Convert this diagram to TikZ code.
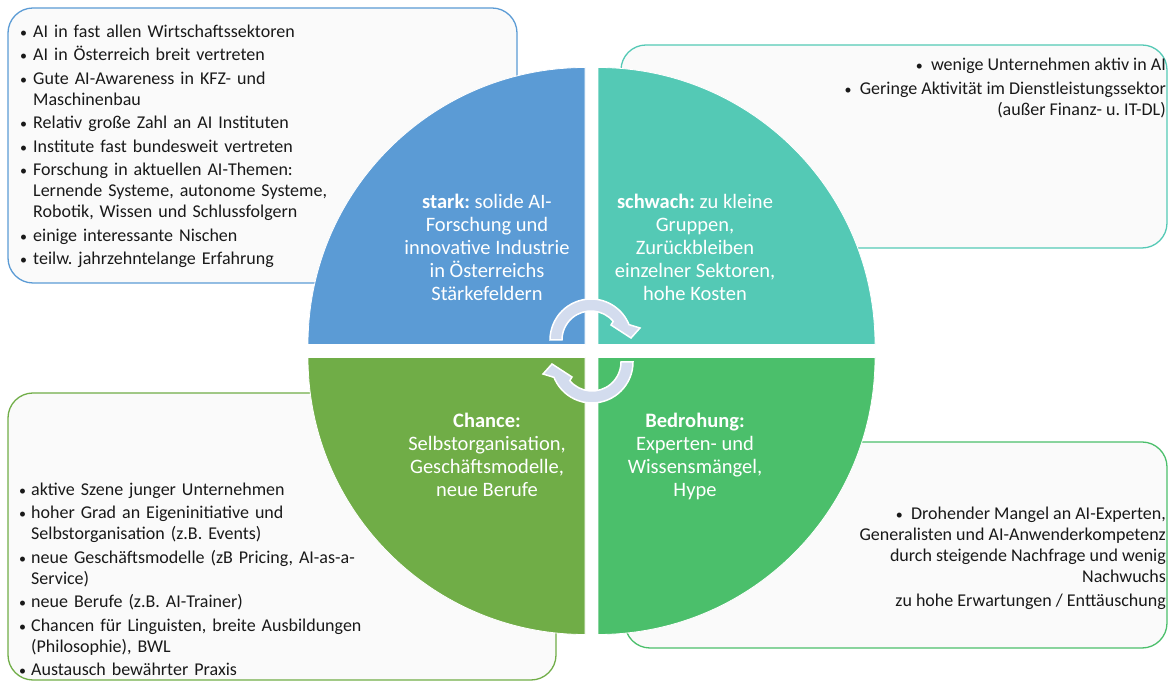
\documentclass[tikz,border=0pt]{standalone}
\usepackage{fontspec}
\setmainfont{Carlito}
\usepackage{enumitem}
\frenchspacing
\definecolor{starkblue}{HTML}{5B9BD5}
\definecolor{schwachteal}{HTML}{54C9B5}
\definecolor{chancegreen}{HTML}{70AD47}
\definecolor{bedrohgreen}{HTML}{4BBF6B}
\definecolor{pfeilgrau}{HTML}{D3DCEE}
\newcommand{\pkt}{{\fontsize{14}{14}\selectfont\textbullet}}

\begin{document}
\begin{tikzpicture}[x=1pt,y=1pt,
  liste/.style={font=\fontsize{18}{21}\selectfont, inner sep=0pt, text=black!90},
  feld/.style={font=\fontsize{20.5}{23}\selectfont, text=white, align=center, inner sep=0pt},
  kasten/.style={fill=black!2, rounded corners=25pt, line width=1.3pt, inner sep=0pt},
  viertel/.style={draw=white, line width=0.8pt},
  pfeil/.style={fill=pfeilgrau, draw=white, line width=1.5pt}]
\useasboundingbox (0,0) rectangle (1169,682);

% Kaesten hinter dem Kreis
\node[kasten, draw=starkblue, minimum width=509pt, minimum height=275pt] (sbox) at (262.5,536.5) {};
\node[kasten, draw=schwachteal, minimum width=546pt, minimum height=203pt] (wbox) at (894,535.5) {};
\node[kasten, draw=chancegreen, minimum width=548pt, minimum height=287pt] (obox) at (282,145.5) {};
\node[kasten, draw=bedrohgreen, minimum width=542pt, minimum height=206pt] (tbox) at (896,137) {};

% Viertelkreise
\filldraw[fill=starkblue, viertel] (585,337.5) -- ++(-277,0) arc[start angle=180, end angle=90, radius=277pt] -- cycle;
\filldraw[fill=schwachteal, viertel] (598,337.5) -- ++(0,277) arc[start angle=90, end angle=0, radius=277pt] -- cycle;
\filldraw[fill=chancegreen, viertel] (585,324.5) -- ++(-277,0) arc[start angle=180, end angle=270, radius=277pt] -- cycle;
\filldraw[fill=bedrohgreen, viertel] (598,324.5) -- ++(0,-277) arc[start angle=270, end angle=360, radius=277pt] -- cycle;

% Kreispfeile
\filldraw[pfeil, shift={(591,342)}] (180:41pt) arc[start angle=180, end angle=22, radius=41pt]
  -- (49,12) -- (40,2) -- (20,15) -- (40:29pt) arc[start angle=40, end angle=180, radius=29pt] -- cycle;
\filldraw[pfeil, shift={(592,320)}, rotate=180] (180:41pt) arc[start angle=180, end angle=22, radius=41pt]
  -- (49,12) -- (40,2) -- (20,15) -- (40:29pt) arc[start angle=40, end angle=180, radius=29pt] -- cycle;

% Texte in den Feldern
\node[feld] (stark) at (487,435) {\textbf{stark:} solide AI-\\Forschung und\\innovative Industrie\\in Österreichs\\Stärkefeldern};
\node[feld] (schwach) at (695,435) {\textbf{schwach:} zu kleine\\Gruppen,\\Zurückbleiben\\einzelner Sektoren,\\hohe Kosten};
\node[feld, anchor=north] (chance) at (487,269) {\textbf{Chance:}\\Selbstorganisation,\\Geschäftsmodelle,\\neue Berufe};
\node[feld, anchor=north] (bedrohung) at (695,269) {\textbf{Bedrohung:}\\Experten- und\\Wissensmängel,\\Hype};

% Listen in den Kaesten
\node[liste, anchor=north west, text width=500pt] (staerken) at (19,666) {%
\begin{itemize}[label=\pkt, leftmargin=14pt, labelsep=6pt, itemsep=2.5pt, topsep=0pt, parsep=0pt, partopsep=0pt]
\item AI in fast allen Wirtschaftssektoren
\item AI in Österreich breit vertreten
\item Gute AI-Awareness in KFZ- und\newline Maschinenbau
\item Relativ große Zahl an AI Instituten
\item Institute fast bundesweit vertreten
\item Forschung in aktuellen AI-Themen:\newline Lernende Systeme, autonome Systeme,\newline Robotik, Wissen und Schlussfolgern
\item einige interessante Nischen
\item teilw. jahrzehntelange Erfahrung
\end{itemize}};
\node[liste, anchor=north east, align=right] (schwaechen) at (1166,624) {\pkt\ \ wenige Unternehmen aktiv in AI\\[2.5pt]
  \pkt\ \ Geringe Aktivität im Dienstleistungssektor\\(außer Finanz- u. IT-DL)};
\node[liste, anchor=north west, text width=530pt] (chancen) at (19,208) {%
\begin{itemize}[label=\pkt, leftmargin=12pt, labelsep=5pt, itemsep=2.5pt, topsep=0pt, parsep=0pt, partopsep=0pt]
\item aktive Szene junger Unternehmen
\item hoher Grad an Eigeninitiative und\newline Selbstorganisation (z.B. Events)
\item neue Geschäftsmodelle (zB Pricing, AI-as-a-\newline Service)
\item neue Berufe (z.B. AI-Trainer)
\item Chancen für Linguisten, breite Ausbildungen\newline (Philosophie), BWL
\item Austausch bewährter Praxis
\end{itemize}};
\node[liste, anchor=north east, align=right] (risiken) at (1166,175) {\pkt\ \ Drohender Mangel an AI-Experten,\\Generalisten und AI-Anwenderkompetenz\\
  durch steigende Nachfrage und wenig\\Nachwuchs\\[2.5pt] zu hohe Erwartungen / Enttäuschung};
\end{tikzpicture}
\end{document}
